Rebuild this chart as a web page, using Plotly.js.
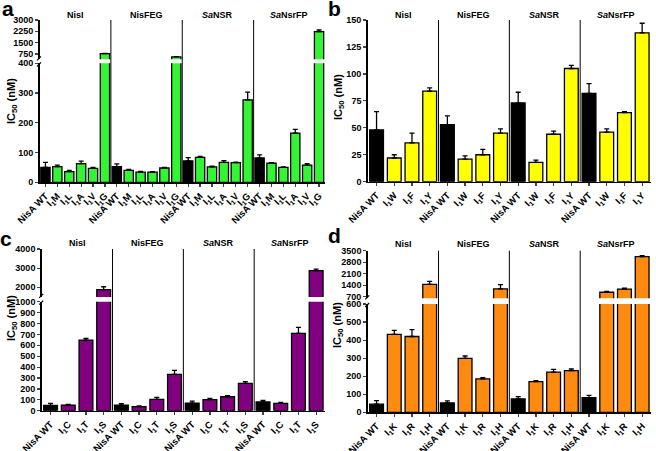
<!DOCTYPE html>
<html><head><meta charset="utf-8">
<script src="https://cdn.plot.ly/plotly-3.0.1.min.js"></script>
<style>body{margin:0;background:#fff}#chart{width:656px;height:451px}</style>
</head><body><div id="chart"></div>
<script>
// ---------------- DATA ----------------
const groups = ['NisI', 'NisFEG', '<i>Sa</i>NSR', '<i>Sa</i>NsrFP'];
const labelsA = ['NisA WT', 'I<sub>1</sub>M', 'I<sub>1</sub>L', 'I<sub>1</sub>A', 'I<sub>1</sub>V', 'I<sub>1</sub>G'];
const labelsB = ['NisA WT', 'I<sub>1</sub>W', 'I<sub>1</sub>F', 'I<sub>1</sub>Y'];
const labelsC = ['NisA WT', 'I<sub>1</sub>C', 'I<sub>1</sub>T', 'I<sub>1</sub>S'];
const labelsD = ['NisA WT', 'I<sub>1</sub>K', 'I<sub>1</sub>R', 'I<sub>1</sub>H'];

// IC50 (nM), ordered NisI, NisFEG, SaNSR, SaNsrFP
const valuesA = [50, 53, 36, 63, 47, 770,   53, 40, 34, 34, 48, 560,   72, 84, 52, 67, 66, 277,   82, 64, 50, 165, 58, 2230];
const errA    = [17, 5, 4, 8, 3, 25,        9, 3, 3, 2, 2, 20,         11, 3, 2, 6, 2, 26,         10, 2, 2, 13, 5, 110];
const valuesB = [48, 22, 36, 84,   53, 21, 25, 45,   73, 18, 44, 105,   82, 46, 64, 138];
const errB    = [17, 3, 9, 3,      8, 3, 5, 4,       10, 2, 3, 3,       9, 3, 1, 9];
const valuesC = [48, 50, 648, 1880,   50, 37, 104, 333,   70, 101, 128, 251,   80, 67, 710, 2870];
const errC    = [20, 8, 15, 150,      15, 8, 18, 37,      18, 12, 10, 15,      15, 9, 55, 80];
const valuesD = [45, 432, 420, 1450,   52, 299, 185, 1170,   74, 170, 223, 231,   81, 970, 1160, 3140];
const errD    = [20, 22, 38, 180,      11, 13, 7, 260,       13, 5, 15, 9,        13, 50, 60, 60];

// axis ticks
const ticksA_low = [0, 100, 200, 300, 400];      const ticksA_up = [750, 1500, 2250, 3000];
const ticksB = [0, 25, 50, 75, 100, 125, 150];
const ticksC_low = [0,100,200,300,400,500,600,700,800,900,1000]; const ticksC_up = [2000, 3000, 4000];
const ticksD_low = [0,100,200,300,400,500,600];  const ticksD_up = [700, 1400, 2100, 2800, 3500];

// ---------------- LAYOUT ----------------
const W = 656, H = 451;
const fx = p => p / W, fy = p => 1 - p / H;
const FONT = 'Liberation Sans, Arial, sans-serif';

const panels = [
  {letter:'a', labels:labelsA, values:valuesA, errs:errA, color:'#33f533', x0:39.5, x1:325,
   segs:[{range:[0,400], p0:182.3, p1:63.3, ticks:ticksA_low}, {range:[400,3000], p0:59.3, p1:20, ticks:ticksA_up}],
   groupY:15, letterPos:[8,9], titlePos:[12,101]},
  {letter:'b', labels:labelsB, values:valuesB, errs:errB, color:'#ffff00', x0:367.7, x1:651,
   segs:[{range:[0,150], p0:181.7, p1:20, ticks:ticksB}],
   groupY:15, letterPos:[334,9], titlePos:[339,97]},
  {letter:'c', labels:labelsC, values:valuesC, errs:errC, color:'#800080', x0:41.7, x1:325,
   segs:[{range:[0,1000], p0:410.7, p1:301.7, ticks:ticksC_low}, {range:[1500,4000], p0:296.9, p1:249, ticks:ticksC_up}],
   groupY:243, letterPos:[6,238], titlePos:[12,318]},
  {letter:'d', labels:labelsD, values:valuesD, errs:errD, color:'#ff8a10', x0:367.7, x1:651,
   segs:[{range:[0,600], p0:412.3, p1:304, ticks:ticksD_low}, {range:[600,3500], p0:298.3, p1:250.7, ticks:ticksD_up}],
   groupY:244, letterPos:[334,235], titlePos:[338,325]}
];

const layout = {
  width: W, height: H, margin:{l:0,r:0,t:0,b:0},
  paper_bgcolor:'#fff', plot_bgcolor:'rgba(0,0,0,0)',
  showlegend:false, hovermode:false, bargap:0.22,
  font:{family:FONT, color:'#000'},
  annotations:[], shapes:[]
};
const traces = [];
let yCount = 0;

panels.forEach((P, pi) => {
  const xn = pi === 0 ? '' : String(pi + 1);
  const xName = 'x' + xn;
  const nPer = P.labels.length;
  const labels = [], xs = [];
  groups.forEach((g, gi) => P.labels.forEach((l, li) => { labels.push(l); xs.push(gi * nPer + li); }));
  const N = labels.length;
  const colors = labels.map(l => l === 'NisA WT' ? '#000000' : P.color);
  const lowerName = 'y' + (yCount === 0 ? '' : String(yCount + 1));

  layout['xaxis' + xn] = {
    domain:[fx(P.x0), fx(P.x1)], range:[-0.5, N - 0.5], anchor: lowerName,
    tickvals: xs, ticktext: labels, tickangle:-45,
    tickfont:{size:9.5, family:FONT, weight:'bold', color:'#000'},
    showline:true, linecolor:'#000', linewidth:1.5, ticks:'outside', ticklen:3, tickwidth:1.2,
    showgrid:false, zeroline:false, fixedrange:true
  };

  P.segs.forEach((S, si) => {
    yCount++;
    const yn = yCount === 1 ? '' : String(yCount);
    const yName = 'y' + yn;
    layout['yaxis' + yn] = {
      domain:[fy(S.p0), fy(S.p1)], range:S.range, anchor:xName,
      tickvals:S.ticks, ticktext:S.ticks.map(String),
      tickfont:{size:9, family:FONT, weight:'bold', color:'#000'},
      showline:true, linecolor:'#000', linewidth:1.5, ticks:'outside', ticklen:3, tickwidth:1.2,
      showgrid:false, zeroline:false, fixedrange:true
    };
    const hi = S.range[1], lo = S.range[0];
    const isTop = si === P.segs.length - 1;
    const segErr = P.values.map((v, i) => (v > lo && (v <= hi || isTop)) ? P.errs[i] : 0);
    traces.push({
      type:'bar', x:xs, y:P.values, xaxis:xName, yaxis:yName, width:0.78,
      marker:{color:colors, line:{color:'#000', width:1.3}},
      error_y:{type:'data', symmetric:false, array:segErr, arrayminus:P.values.map(() => 0),
               color:'#000', thickness:1.3, width:2.5}
    });
  });

  // separators between groups
  const yBottom = fy(P.segs[0].p0), yTop = fy(P.segs[P.segs.length - 1].p1);
  for (let g = 1; g < groups.length; g++) {
    layout.shapes.push({type:'line', xref:xName, yref:'paper', x0:g * nPer - 0.5, x1:g * nPer - 0.5,
      y0:yBottom, y1:yTop, line:{color:'#000', width:1}});
  }
  // break marks on y axis
  if (P.segs.length > 1) {
    const gb = P.segs[0].p1, gt = P.segs[1].p0;
    [gb + 1, gt - 1].forEach(py => {
      layout.shapes.push({type:'line', xref:'paper', yref:'paper',
        x0:fx(P.x0 - 2.5), x1:fx(P.x0 + 1.5), y0:fy(py + 2), y1:fy(py - 2), line:{color:'#000', width:1.2}});
    });
  }
  // group labels
  groups.forEach((g, gi) => {
    layout.annotations.push({text:'<b>' + g + '</b>', xref:xName, yref:'paper',
      x:gi * nPer + (nPer - 1) / 2, y:fy(P.groupY), showarrow:false,
      font:{size:9, family:FONT, color:'#000'}, xanchor:'center', yanchor:'middle'});
  });
  // panel letter
  layout.annotations.push({text:'<b>' + P.letter + '</b>', xref:'paper', yref:'paper',
    x:fx(P.letterPos[0]), y:fy(P.letterPos[1]), showarrow:false,
    font:{size:21, family:FONT, color:'#000'}, xanchor:'center', yanchor:'middle'});
  // y title
  layout.annotations.push({text:'<b>IC<sub>50</sub> (nM)</b>', xref:'paper', yref:'paper',
    x:fx(P.titlePos[0]), y:fy(P.titlePos[1]), showarrow:false, textangle:-90,
    font:{size:11, family:FONT, color:'#000'}, xanchor:'center', yanchor:'middle'});
});

Plotly.newPlot('chart', traces, layout, {staticPlot:true, displayModeBar:false});
</script></body></html>
